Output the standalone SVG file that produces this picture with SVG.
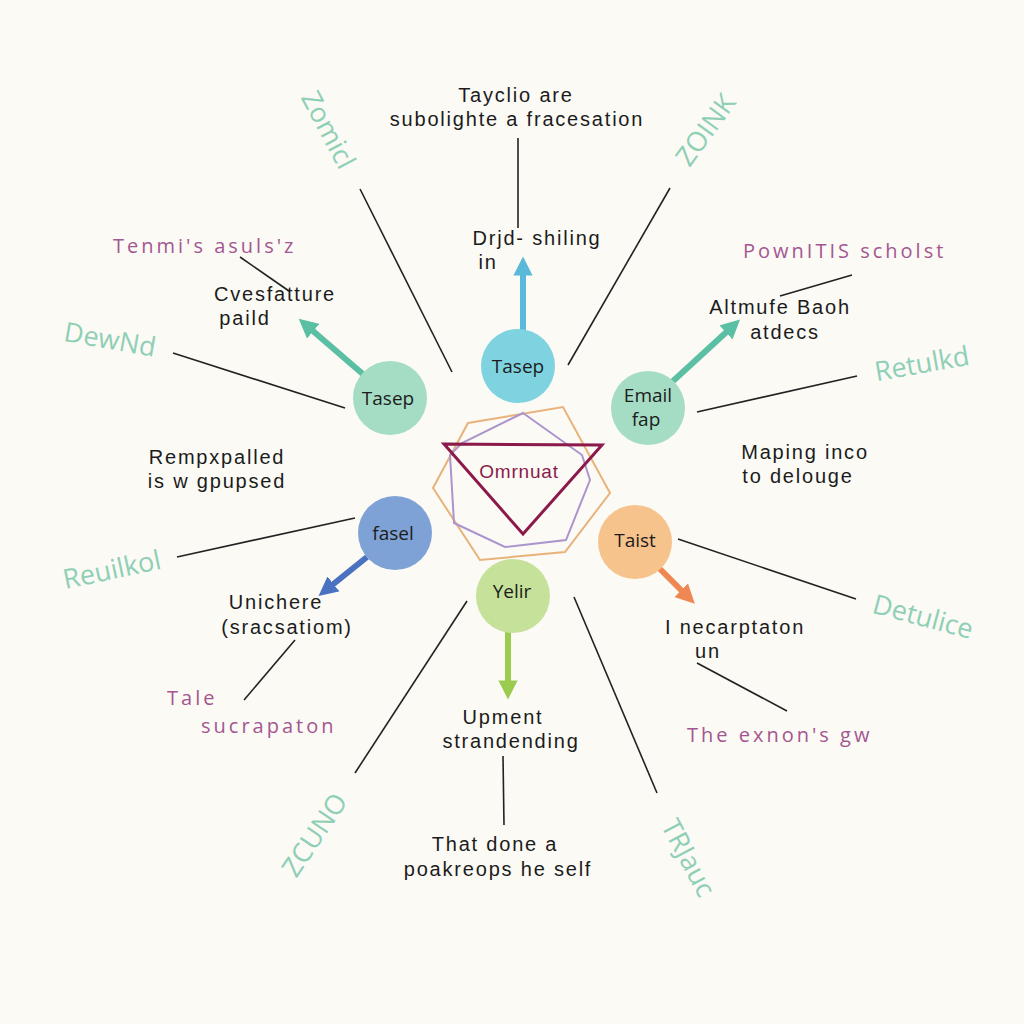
<svg xmlns="http://www.w3.org/2000/svg" width="1024" height="1024" viewBox="0 0 1024 1024">
<defs>
<style>
.t{font-family:"Liberation Sans","Arial",sans-serif;font-size:20px;fill:#1c1c1c;text-anchor:middle;letter-spacing:1.8px}
.n{font-family:"Open Sans","DejaVu Sans",sans-serif;font-size:19px;fill:#1c1c1c;text-anchor:middle}
.p{font-family:"Open Sans","DejaVu Sans",sans-serif;font-size:20px;fill:#a45690;letter-spacing:3px}
.g{font-family:"Open Sans","DejaVu Sans",sans-serif;font-size:27px;fill:#8fcfb6;text-anchor:middle}
.ln{stroke:#222;stroke-width:1.6;fill:none}
</style>
<marker id="ac" viewBox="0 0 10 10" refX="5" refY="5" markerWidth="3.2" markerHeight="3.2" orient="auto"><path d="M0,0 L10,5 L0,10 z" fill="#5ab9d8"/></marker>
<marker id="at" viewBox="0 0 10 10" refX="5" refY="5" markerWidth="3.2" markerHeight="3.2" orient="auto"><path d="M0,0 L10,5 L0,10 z" fill="#5bbfa3"/></marker>
<marker id="ab" viewBox="0 0 10 10" refX="5" refY="5" markerWidth="3.2" markerHeight="3.2" orient="auto"><path d="M0,0 L10,5 L0,10 z" fill="#4a72c0"/></marker>
<marker id="ao" viewBox="0 0 10 10" refX="5" refY="5" markerWidth="3.2" markerHeight="3.2" orient="auto"><path d="M0,0 L10,5 L0,10 z" fill="#ee8751"/></marker>
<marker id="ag" viewBox="0 0 10 10" refX="5" refY="5" markerWidth="3.2" markerHeight="3.2" orient="auto"><path d="M0,0 L10,5 L0,10 z" fill="#9bcb4f"/></marker>
</defs>
<rect width="1024" height="1024" fill="#fbfaf5"/>

<g id="connectors">
<line class="ln" x1="518" y1="138" x2="518" y2="228"/>
<line class="ln" x1="360" y1="189" x2="452" y2="372"/>
<line class="ln" x1="670" y1="188" x2="568" y2="365"/>
<line class="ln" x1="173" y1="353" x2="345" y2="408"/>
<line class="ln" x1="240" y1="257" x2="289" y2="291"/>
<line class="ln" x1="697" y1="412" x2="857" y2="376"/>
<line class="ln" x1="780" y1="296" x2="852" y2="275"/>
<line class="ln" x1="177" y1="557" x2="355" y2="518"/>
<line class="ln" x1="244" y1="700" x2="295" y2="640"/>
<line class="ln" x1="355" y1="773" x2="467" y2="601"/>
<line class="ln" x1="574" y1="597" x2="657" y2="793"/>
<line class="ln" x1="678" y1="539" x2="856" y2="599"/>
<line class="ln" x1="697" y1="663" x2="787" y2="711"/>
<line class="ln" x1="503" y1="756" x2="504" y2="825"/>
<line x1="523" y1="332" x2="523" y2="266" stroke="#5ab9d8" stroke-width="6" marker-end="url(#ac)"/>
<line x1="364" y1="375" x2="306" y2="325" stroke="#5bbfa3" stroke-width="6" marker-end="url(#at)"/>
<line x1="672" y1="382" x2="733" y2="326" stroke="#5bbfa3" stroke-width="6" marker-end="url(#at)"/>
<line x1="367" y1="557" x2="326" y2="590" stroke="#4a72c0" stroke-width="6" marker-end="url(#ab)"/>
<line x1="653" y1="562" x2="688" y2="597" stroke="#ee8751" stroke-width="6" marker-end="url(#ao)"/>
<line x1="508" y1="632" x2="508" y2="690" stroke="#9bcb4f" stroke-width="6" marker-end="url(#ag)"/>
</g>

<g id="center">
<polygon points="468,423 563,407 610,493 565,552 480,560 433,488" fill="none" stroke="#e9b27a" stroke-width="2"/>
<polygon points="523,413 582,455 590,480 566,540 505,547 454,523 450,455 462,443" fill="none" stroke="#ab95cc" stroke-width="2"/>
<polygon points="444,444 602,445 523,534" fill="none" stroke="#8b1a4a" stroke-width="3"/>
<text class="t" x="519" y="478" style="fill:#8b1a4a;font-size:19px;letter-spacing:0.8px">Omrnuat</text>
</g>

<g id="node-top"><circle cx="518" cy="366" r="37" fill="#7fd3e0"/><text class="n" x="518" y="373">Tasep</text></g>
<g id="node-left"><circle cx="390" cy="398" r="37" fill="#a5dcc4"/><text class="n" x="388" y="405">Tasep</text></g>
<g id="node-right"><circle cx="648" cy="408" r="37" fill="#a5dcc4"/><text class="n" x="648" y="402">Email<tspan x="646" dy="24">fap</tspan></text></g>
<g id="node-fasel"><circle cx="395" cy="533" r="37" fill="#7fa2d6"/><text class="n" x="393" y="540">fasel</text></g>
<g id="node-taist"><circle cx="635" cy="542" r="37" fill="#f6c38c"/><text class="n" x="635" y="547">Taist</text></g>
<g id="node-yelir"><circle cx="513" cy="596" r="37" fill="#c6e29a"/><text class="n" x="512" y="598">Yelir</text></g>

<g id="labels">
<text class="t" x="516" y="102">Tayclio are<tspan x="517" dy="24">subolighte a fracesation</tspan></text>
<text class="t" x="537" y="245">Drjd- shiling<tspan x="488" dy="23.5">in</tspan></text>
<text class="t" x="275" y="301">Cvesfatture<tspan x="245" dy="24">paild</tspan></text>
<text class="t" x="780" y="314">Altmufe Baoh<tspan x="785" dy="25">atdecs</tspan></text>
<text class="t" x="217" y="464">Rempxpalled<tspan x="217" dy="24">is w gpupsed</tspan></text>
<text class="t" x="805" y="459">Maping inco<tspan x="798" dy="24">to delouge</tspan></text>
<text class="t" x="276" y="609">Unichere<tspan x="287" dy="25">(sracsatiom)</tspan></text>
<text class="t" x="735" y="634">I necarptaton<tspan x="708" dy="24">un</tspan></text>
<text class="t" x="503" y="724">Upment<tspan x="511" dy="24">strandending</tspan></text>
<text class="t" x="495" y="851">That done a<tspan x="498" dy="25">poakreops he self</tspan></text>

<text class="p" x="113" y="253">Tenmi's asuls'z</text>
<text class="p" x="743" y="258">PownITIS scholst</text>
<text class="p" x="167" y="705">Tale</text>
<text class="p" x="201" y="733">sucrapaton</text>
<text class="p" x="687" y="742">The exnon's gw</text>

<text class="g" transform="translate(328,130) rotate(62)" y="9">Zomicl</text>
<text class="g" transform="translate(706,130) rotate(-54)" y="9">ZOINK</text>
<text class="g" transform="translate(110,340) rotate(10)" y="9">DewNd</text>
<text class="g" transform="translate(922,364) rotate(-10)" y="9">Retulkd</text>
<text class="g" transform="translate(112,570) rotate(-12)" y="9">Reuilkol</text>
<text class="g" transform="translate(923,617) rotate(15)" y="9">Detulice</text>
<text class="g" transform="translate(315,835) rotate(-56)" y="9">ZCUNO</text>
<text class="g" transform="translate(688,858) rotate(62)" y="9">TRJauc</text>
</g>
</svg>
